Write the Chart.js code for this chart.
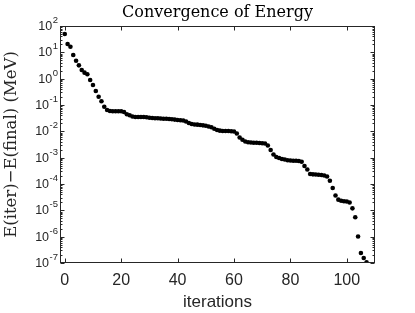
<!DOCTYPE html>
<html>
<head>
<meta charset="utf-8">
<script src="https://cdn.jsdelivr.net/npm/chart.js@4.4.1/dist/chart.umd.min.js"></script>
<style>
  html, body { margin: 0; padding: 0; background: #fff; }
</style>
</head>
<body>
<canvas id="energyChart" width="415" height="313"></canvas>
<script>
// iteration number for each point
const iterations = [
  0, 1, 2, 3, 4, 5, 6, 7, 8, 9, 10, 11, 12, 13, 14, 15, 16, 17, 18, 19,
  20, 21, 22, 23, 24, 25, 26, 27, 28, 29, 30, 31, 32, 33, 34, 35, 36, 37, 38, 39,
  40, 41, 42, 43, 44, 45, 46, 47, 48, 49, 50, 51, 52, 53, 54, 55, 56, 57, 58, 59,
  60, 61, 62, 63, 64, 65, 66, 67, 68, 69, 70, 71, 72, 73, 74, 75, 76, 77, 78, 79,
  80, 81, 82, 83, 84, 85, 86, 87, 88, 89, 90, 91, 92, 93, 94, 95, 96, 97, 98, 99,
  100, 101, 102, 103, 104, 105, 106, 107
];

// E(iter) - E(final) in MeV
const energyDiff = [
  50, 20.7, 16.4, 7.9, 4.8, 3.2, 2.13, 1.69, 1.47, 0.89,
  0.574, 0.340, 0.207, 0.138, 0.0861, 0.0646, 0.0592, 0.0577, 0.0577, 0.0577,
  0.0577, 0.0542, 0.0444, 0.0406, 0.0366, 0.0350, 0.0350, 0.0350, 0.0350, 0.0341,
  0.0330, 0.0321, 0.0313, 0.0313, 0.0307, 0.0302, 0.0302, 0.0294, 0.0286, 0.0279,
  0.0269, 0.0262, 0.0258, 0.0236, 0.0207, 0.0190, 0.0182, 0.0179, 0.0174, 0.0169,
  0.0164, 0.0152, 0.0142, 0.0126, 0.0112, 0.0106, 0.0103, 0.0103, 0.0103, 0.0101,
  0.00986, 0.00828, 0.00583, 0.00481, 0.00411, 0.00383, 0.00377, 0.00370, 0.00367, 0.00361,
  0.00354, 0.00345, 0.00290, 0.00195, 0.00132, 0.00106, 0.000970, 0.000889, 0.000851, 0.000801,
  0.000780, 0.000767, 0.000760, 0.000746, 0.000703, 0.000482, 0.000356, 0.000240, 0.000233, 0.000230,
  0.000225, 0.000220, 0.000210, 0.000193, 0.000133, 7.05e-5, 3.66e-5, 2.54e-5, 2.30e-5, 2.20e-5,
  2.16e-5, 1.98e-5, 1.19e-5, 5.43e-6, 1.01e-6, 2.40e-7, 1.55e-7, 1.06e-7
];

const xTicks = [0, 20, 40, 60, 80, 100];
const yExponents = [-7, -6, -5, -4, -3, -2, -1, 0, 1, 2];

const axisColor = '#262626';

// box, inward ticks and 10^n labels like the matlab figure
const framePlugin = {
  id: 'frame',
  afterDraw(chart) {
    const ctx = chart.ctx;
    const a = chart.chartArea;
    const xs = chart.scales.x;
    const ys = chart.scales.y;
    const L = Math.round(a.left) + 0.5;
    const R = Math.round(a.right) - 0.5;
    const T = Math.round(a.top) + 0.5;
    const B = Math.round(a.bottom) - 0.5;

    ctx.save();
    ctx.strokeStyle = axisColor;
    ctx.lineWidth = 1;
    ctx.strokeRect(L, T, R - L, B - T);

    ctx.beginPath();
    xTicks.forEach(v => {
      const px = Math.round(xs.getPixelForValue(v)) + 0.5;
      ctx.moveTo(px, B); ctx.lineTo(px, B - 4);
      ctx.moveTo(px, T); ctx.lineTo(px, T + 4);
    });
    yExponents.forEach(e => {
      const py = Math.round(ys.getPixelForValue(Math.pow(10, e))) + 0.5;
      ctx.moveTo(L, py); ctx.lineTo(L + 4, py);
      ctx.moveTo(R, py); ctx.lineTo(R - 4, py);
      if (e < 2) {
        for (let m = 2; m <= 9; m++) {
          const pm = Math.round(ys.getPixelForValue(m * Math.pow(10, e))) + 0.5;
          ctx.moveTo(L, pm); ctx.lineTo(L + 2, pm);
          ctx.moveTo(R, pm); ctx.lineTo(R - 2, pm);
        }
      }
    });
    ctx.stroke();

    // y tick labels with superscript exponent
    ctx.fillStyle = axisColor;
    ctx.textAlign = 'right';
    ctx.textBaseline = 'alphabetic';
    yExponents.forEach(e => {
      const py = ys.getPixelForValue(Math.pow(10, e));
      const expText = e < 0 ? '-' + Math.abs(e) : String(e);
      ctx.font = '9.5px "Liberation Sans"';
      const expW = ctx.measureText(expText).width;
      ctx.fillText(expText, 58, py - 3);
      ctx.font = '12.5px "Liberation Sans"';
      ctx.fillText('10', 58 - expW - 0.5, py + 4);
    });
    ctx.restore();
  }
};

new Chart(document.getElementById('energyChart'), {
  type: 'scatter',
  data: {
    datasets: [{
      data: iterations.map((it, i) => ({ x: it, y: energyDiff[i] })),
      pointRadius: 2.3,
      pointBackgroundColor: '#000',
      pointBorderWidth: 0,
      showLine: false
    }]
  },
  options: {
    responsive: false,
    animation: false,
    devicePixelRatio: 1,
    layout: { padding: { top: 0, right: 40, bottom: 0, left: 0 } },
    plugins: {
      legend: { display: false },
      tooltip: { enabled: false },
      title: {
        display: true,
        fullSize: false,
        text: 'Convergence of Energy',
        color: '#000',
        font: { family: 'DejaVu Serif', size: 16, weight: 'normal' },
        padding: { top: 3, bottom: 3.8 }
      }
    },
    scales: {
      x: {
        type: 'linear',
        min: -1.7,
        max: 110,
        grid: { display: false, drawTicks: false },
        border: { display: false },
        afterBuildTicks: s => { s.ticks = xTicks.map(v => ({ value: v })); },
        afterFit: s => { s.height = 50; },
        ticks: {
          padding: 8,
          color: axisColor,
          maxRotation: 0,
          font: { family: 'Liberation Sans', size: 16 }
        },
        title: {
          display: true,
          text: 'iterations',
          color: axisColor,
          font: { family: 'Liberation Sans', size: 17 },
          padding: { top: 0, bottom: 0 }
        }
      },
      y: {
        type: 'logarithmic',
        min: 1e-7,
        max: 1e2,
        grid: { display: false, drawTicks: false },
        border: { display: false },
        afterBuildTicks: s => { s.ticks = yExponents.map(e => ({ value: Math.pow(10, e) })); },
        afterFit: s => { s.width = 60; },
        ticks: { display: false },
        title: {
          display: true,
          text: 'E(iter)\u2212E(final) (MeV)',
          color: axisColor,
          font: { family: 'DejaVu Serif', size: 16.5, weight: 'normal' },
          padding: { top: 2, bottom: 0 }
        }
      }
    }
  },
  plugins: [framePlugin]
});
</script>
</body>
</html>
